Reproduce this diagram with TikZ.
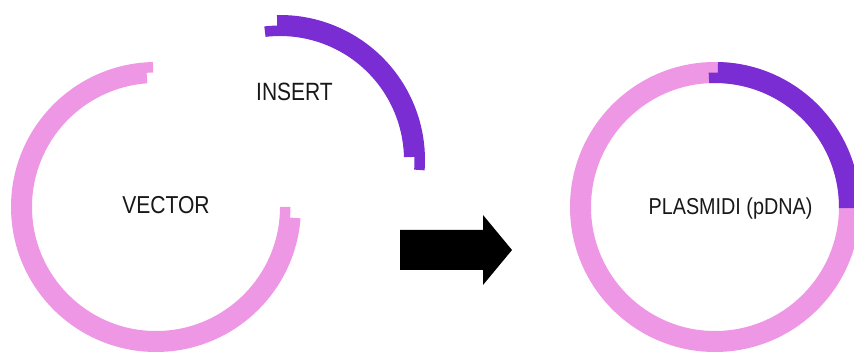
\documentclass[tikz,border=0pt]{standalone}
\usepackage{fontspec}
\usepackage{graphicx}
\setmainfont{Liberation Sans}
\definecolor{vectorpink}{RGB}{238,152,229}
\definecolor{insertviolet}{RGB}{122,45,210}
\definecolor{labelgray}{RGB}{24,24,24}

% Ring segment with staggered (sticky) ends.
% #1 outer radius, #2 middle radius, #3 inner radius,
% #4 start angle outer half, #5 end angle outer half,
% #6 start angle inner half, #7 end angle inner half
\newcommand{\stickyarc}[7]{%
  (#4:#1) arc[start angle=#4, end angle=#5, radius=#1]
  -- (#5:#2) arc[start angle=#5, end angle=#7, radius=#2]
  -- (#7:#3) arc[start angle=#7, end angle=#6, radius=#3]
  -- (#6:#2) arc[start angle=#6, end angle=#4, radius=#2] -- cycle}

\tikzset{
  label text/.style={text=labelgray, inner sep=0pt, anchor=base},
  arrow body/.style={fill=black}
}

\begin{document}
\begin{tikzpicture}[x=1pt, y=1pt]
  \useasboundingbox (0,0) rectangle (854,353);
  \clip (0,0) rectangle (854,353);

  % Vector backbone, opened at the top and on the right
  \begin{scope}[shift={(156,146)}]
    \fill[vectorpink] \stickyarc{145}{134.5}{124}{91.2}{355.5}{94}{360};
  \end{scope}

  % Insert fragment
  \begin{scope}[shift={(280,193)}]
    \fill[insertviolet] \stickyarc{145}{134.5}{124}{91.2}{-4.1}{96.7}{1.3};
  \end{scope}

  % Recombinant plasmid: backbone ring with the insert ligated in
  \begin{scope}[shift={(715,146)}]
    \fill[vectorpink, even odd rule] (0,0) circle[radius=145] (0,0) circle[radius=124];
    \fill[insertviolet] \stickyarc{145}{134.5}{124}{88.8}{-0.5}{92.7}{-0.5};
  \end{scope}

  % Block arrow
  \fill[arrow body] (400,123) -- (483,123) -- (483,138) -- (512,103)
    -- (483,68) -- (483,83) -- (400,83) -- cycle;

  % Labels
  \node[label text, font=\fontsize{25}{30}\selectfont] (insert) at (294.5,252)
    {\scalebox{0.84}[1]{INSERT}};
  \node[label text, font=\fontsize{24.5}{30}\selectfont] (vector) at (166,139)
    {\scalebox{0.86}[1]{VECTOR}};
  \node[label text, font=\fontsize{23}{28}\selectfont] (plasmid) at (730.5,138.7)
    {\scalebox{0.86}[1]{PLASMIDI (pDNA)}};
\end{tikzpicture}
\end{document}
